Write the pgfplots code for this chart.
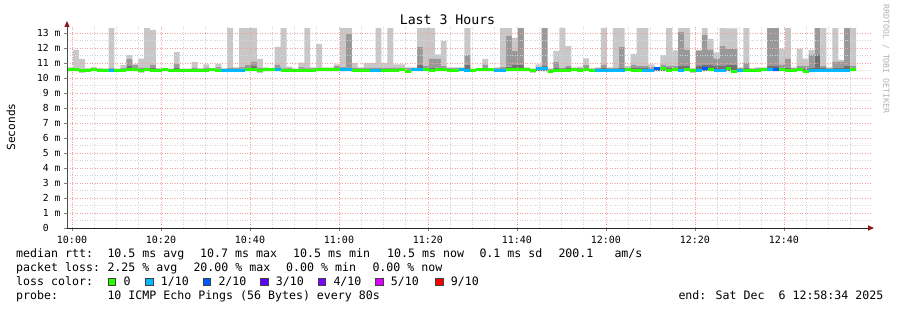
\documentclass[border=0pt]{standalone}
\usepackage{pgfplots}
\pgfplotsset{compat=1.18}
\usepackage{pgfplotstable}
\usepackage{fontspec}
\setmainfont{DejaVu Sans Mono}
\newfontfamily\mono{DejaVu Sans Mono}
\definecolor{lzero}{HTML}{26FF00}
\definecolor{lone}{HTML}{00B8FF}
\definecolor{ltwo}{HTML}{0059FF}
\definecolor{lthree}{HTML}{5E00FF}
\definecolor{lfour}{HTML}{7E00FF}
\definecolor{lfive}{HTML}{DD00FF}
\definecolor{lnine}{HTML}{FF0000}
\definecolor{smlight}{HTML}{C8C8C8}
\definecolor{smmid}{HTML}{999999}
\definecolor{smdark}{HTML}{707070}
\definecolor{arrowred}{HTML}{8B1A1A}
\definecolor{mgrid}{HTML}{F4A0A0}
\definecolor{ngrid}{HTML}{D4D4D4}

\pgfplotstableread{
lo dark mid top med loss
10.45 10.60 10.65 10.70 10.55 0
10.45 10.60 10.65 11.87 10.57 0
10.38 10.55 10.60 11.27 10.48 0
10.45 10.60 10.62 10.65 10.52 0
10.45 10.60 10.65 10.72 10.58 0
10.45 10.58 10.60 10.65 10.52 0
10.45 10.58 10.60 10.62 10.52 0
10.45 10.60 10.65 13.33 10.52 1
10.45 10.58 10.60 10.62 10.52 0
10.45 10.60 10.65 10.87 10.52 0
10.45 10.80 11.27 11.53 10.58 0
10.45 10.65 10.85 10.93 10.58 0
10.38 10.60 10.70 11.29 10.50 0
10.45 10.60 10.70 13.33 10.58 0
10.45 10.65 10.90 13.20 10.52 0
10.45 10.58 10.60 10.65 10.52 0
10.45 10.58 10.60 10.65 10.58 0
10.45 10.58 10.60 10.62 10.52 0
10.45 10.70 10.93 11.73 10.50 0
10.45 10.58 10.60 10.62 10.52 0
10.45 10.58 10.60 10.62 10.52 0
10.45 10.60 10.70 11.07 10.52 0
10.45 10.58 10.60 10.65 10.52 0
10.45 10.60 10.70 10.90 10.52 0
10.45 10.58 10.60 10.65 10.58 0
10.45 10.62 10.75 10.93 10.52 0
10.45 10.58 10.60 10.65 10.50 1
10.45 10.60 10.70 13.33 10.50 1
10.45 10.60 10.65 10.70 10.50 1
10.45 10.62 10.75 13.33 10.50 1
10.45 10.65 10.87 13.33 10.58 0
10.45 10.80 11.10 13.33 10.58 0
10.38 10.60 10.70 11.27 10.48 0
10.45 10.60 10.65 10.70 10.55 0
10.45 10.58 10.60 10.62 10.55 0
10.45 10.70 10.90 12.07 10.58 1
10.45 10.62 10.70 13.33 10.52 0
10.45 10.60 10.65 10.75 10.52 0
10.40 10.58 10.60 10.62 10.48 0
10.45 10.62 10.75 11.02 10.52 0
10.45 10.62 10.70 13.33 10.52 0
10.45 10.60 10.65 10.70 10.52 0
10.45 10.60 10.70 12.27 10.58 0
10.45 10.60 10.65 10.70 10.58 0
10.45 10.60 10.65 10.70 10.58 0
10.45 10.65 10.80 10.90 10.58 0
10.45 10.60 10.75 13.33 10.58 1
10.45 10.70 12.93 13.33 10.58 1
10.40 10.60 10.70 11.00 10.50 0
10.45 10.60 10.65 10.70 10.52 0
10.45 10.60 10.70 11.00 10.52 0
10.45 10.60 10.70 11.00 10.52 1
10.45 10.60 10.70 13.33 10.52 1
10.45 10.60 10.70 11.00 10.52 0
10.45 10.60 10.70 13.33 10.52 0
10.45 10.60 10.70 10.90 10.52 0
10.45 10.60 10.70 10.90 10.55 0
10.35 10.58 10.65 10.70 10.45 0
10.45 10.60 10.65 10.70 10.58 1
10.45 10.90 12.07 13.33 10.58 1
10.45 10.65 10.80 13.33 10.58 0
10.45 10.70 11.30 13.33 10.52 0
10.45 10.70 11.30 11.58 10.58 0
10.45 10.65 10.80 12.47 10.58 0
10.45 10.60 10.65 10.70 10.52 0
10.45 10.60 10.65 10.70 10.52 0
10.45 10.60 10.65 10.70 10.55 1
10.45 10.90 11.55 13.33 10.50 1
10.45 10.58 10.60 10.62 10.52 0
10.45 10.58 10.60 10.62 10.58 0
10.45 10.65 10.90 11.27 10.58 0
10.45 10.58 10.60 10.62 10.58 0
10.45 10.60 10.65 10.70 10.50 1
10.45 10.60 10.75 13.33 10.50 1
10.45 10.75 12.84 13.33 10.58 0
10.45 10.85 11.80 12.67 10.58 0
10.45 10.90 13.33 13.33 10.58 0
10.45 10.60 10.65 10.70 10.58 0
10.38 10.58 10.60 10.62 10.48 0
10.45 10.62 10.75 10.90 10.60 1
10.45 10.80 13.33 13.33 10.60 1
10.35 10.58 10.60 10.62 10.45 0
10.45 10.70 11.07 11.80 10.52 0
10.45 10.60 10.70 13.33 10.52 0
10.45 10.65 10.80 12.13 10.52 0
10.45 10.60 10.65 10.70 10.58 0
10.45 10.60 10.65 10.75 10.52 0
10.45 10.65 10.85 11.30 10.58 0
10.45 10.58 10.60 10.65 10.52 0
10.45 10.60 10.65 10.70 10.52 1
10.45 10.65 10.90 13.33 10.52 1
10.45 10.60 10.65 10.70 10.52 1
10.45 10.60 10.70 13.33 10.52 1
10.45 10.70 12.07 13.33 10.52 1
10.45 10.62 10.70 10.80 10.58 0
10.45 10.65 10.90 11.60 10.52 0
10.45 10.65 10.80 13.33 10.52 0
10.45 10.65 10.80 13.33 10.52 1
10.45 10.62 10.75 10.90 10.52 1
10.45 10.60 10.62 10.65 10.60 2
10.45 10.70 10.90 11.53 10.65 0
10.45 10.65 10.80 13.33 10.52 0
10.45 10.65 10.80 11.84 10.58 0
10.45 10.80 13.07 13.33 10.52 1
10.45 10.80 11.90 13.33 10.58 0
10.38 10.60 10.62 10.65 10.48 0
10.45 10.80 11.84 11.84 10.52 1
10.45 10.90 12.87 13.33 10.60 2
10.45 10.85 11.90 12.60 10.58 0
10.45 10.80 11.30 11.70 10.52 1
10.45 10.80 12.13 13.33 10.52 1
10.45 10.85 11.96 13.30 10.65 0
10.35 10.90 11.96 13.30 10.45 0
10.45 10.60 10.65 10.70 10.52 1
10.45 10.65 11.00 13.33 10.52 0
10.40 10.55 10.60 10.65 10.48 0
10.40 10.60 10.65 10.70 10.48 0
10.45 10.60 10.65 10.70 10.58 0
10.45 10.80 13.33 13.33 10.58 1
10.45 10.80 13.33 13.33 10.58 2
10.45 10.70 10.90 11.96 10.58 0
10.45 10.70 11.30 13.33 10.52 0
10.45 10.60 10.65 10.70 10.52 0
10.45 10.65 10.80 11.96 10.58 0
10.35 10.60 10.80 11.29 10.45 0
10.45 10.70 11.58 11.87 10.52 1
10.45 11.53 13.33 13.33 10.52 1
10.45 10.65 10.80 13.33 10.52 1
10.45 10.60 10.65 10.70 10.52 1
10.45 10.65 11.10 13.33 10.52 1
10.45 10.65 11.10 11.20 10.52 1
10.45 10.80 13.33 13.33 10.52 1
10.45 10.65 10.80 13.33 10.58 0
10.45 10.65 10.80 13.33 10.58 0
}\smoke

\begin{document}
\begin{tikzpicture}
\fill[white] (0pt,0pt) rectangle (897pt,310pt);
\useasboundingbox (0pt,0pt) rectangle (897pt,310pt);
\begin{axis}[
  at={(67pt,82pt)}, anchor=south west,
  scale only axis, width=802.7pt, height=201.75pt,
  xmin=0, xmax=135.3, ymin=0, ymax=13.45,
  axis x line*=bottom, axis y line*=left,
  axis line style={draw=none},
  axis on top,
  xtick={0.843,15.843,30.843,45.843,60.843,75.843,90.843,105.843,120.843},
  xticklabels={10:00,10:20,10:40,11:00,11:20,11:40,12:00,12:20,12:40},
  minor xtick={4.593,8.343,12.093,19.593,23.343,27.093,34.593,38.343,42.093,49.593,53.343,57.093,64.593,68.343,72.093,79.593,83.343,87.093,94.593,98.343,102.093,109.593,113.343,117.093,124.593,128.343,132.093},
  ytick={0,1,2,3,4,5,6,7,8,9,10,11,12,13},
  yticklabels={{0\rule{11.7pt}{0pt}},1 m,2 m,3 m,4 m,5 m,6 m,7 m,8 m,9 m,10 m,11 m,12 m,13 m},
  minor ytick={0.5,1.5,2.5,3.5,4.5,5.5,6.5,7.5,8.5,9.5,10.5,11.5,12.5},
  grid=both,
  every major grid/.style={color=mgrid, line width=0.5pt, dash pattern=on 1pt off 1.5pt},
  every minor grid/.style={color=ngrid, line width=0.5pt, dash pattern=on 1pt off 1.5pt},
  tick align=outside, major tick length=3pt, minor tick length=0pt,
  major tick style={line width=0.6pt},
  xticklabel style={font=\mono\fontsize{10}{12}\selectfont, yshift=-2pt},
  yticklabel style={font=\mono\fontsize{9.7}{11}\selectfont},
]
\addplot[stack plots=y, const plot, draw=none] table[x expr=\coordindex, y=lo] \smoke;
\addplot[stack plots=y, const plot, draw=none, fill=smdark] table[x expr=\coordindex, y expr=\thisrow{dark}-\thisrow{lo}] \smoke \closedcycle;
\addplot[stack plots=y, const plot, draw=none, fill=smmid] table[x expr=\coordindex, y expr=\thisrow{mid}-\thisrow{dark}] \smoke \closedcycle;
\addplot[stack plots=y, const plot, draw=none, fill=smlight] table[x expr=\coordindex, y expr=\thisrow{top}-\thisrow{mid}] \smoke \closedcycle;
\addplot[scatter, only marks, scatter src=explicit symbolic, mark size=2.97pt,
  scatter/classes={0={mark=-,draw=lzero,line width=3pt},1={mark=-,draw=lone,line width=3pt},2={mark=-,draw=ltwo,line width=3pt}}]
  table[x expr=\coordindex+0.5, y=med, meta=loss, skip coords between index={133}{134}] \smoke;
\end{axis}
\draw[black!85, line width=0.8pt] (67pt,82pt) -- (869pt,82pt);
\fill[arrowred] (868pt,79.3pt) -- (874pt,82pt) -- (868pt,84.7pt) -- cycle;
\draw[black!70, line width=0.8pt] (67pt,82pt) -- (67pt,284pt);
\fill[arrowred] (64.3pt,283pt) -- (67pt,289pt) -- (69.7pt,283pt) -- cycle;
% title, labels
\node[font=\mono\fontsize{13.2}{15}\selectfont] at (447.5pt,290pt) {Last 3 Hours};
\node[font=\mono\fontsize{11.2}{13}\selectfont, rotate=90] at (11pt,183pt) {Seconds};
\node[font=\mono\fontsize{8.2}{10}\selectfont, rotate=-90, text=black!30] at (886pt,251pt) {RRDTOOL / TOBI OETIKER};
% legend
\begin{scope}[every node/.style={anchor=base west, inner sep=0pt, font=\mono\fontsize{11.6}{14}\selectfont}]
\node at (16pt,52.5pt) {median rtt:};
\node at (107.3pt,52.5pt) {10.5 ms avg};
\node at (200pt,52.5pt) {10.7 ms max};
\node at (293pt,52.5pt) {10.5 ms min};
\node at (387pt,52.5pt) {10.5 ms now};
\node at (479.3pt,52.5pt) {0.1 ms sd};
\node at (558.3pt,52.5pt) {200.1};
\node at (614.3pt,52.5pt) {am/s};
\node at (16pt,38.5pt) {packet loss:};
\node at (107.3pt,38.5pt) {2.25 \% avg};
\node at (193.3pt,38.5pt) {20.00 \% max};
\node at (286pt,38.5pt) {0.00 \% min};
\node at (372.3pt,38.5pt) {0.00 \% now};
\node at (16pt,24.5pt) {loss color:};
\node at (123.3pt,24.5pt) {0};
\node at (160.7pt,24.5pt) {1/10};
\node at (218.3pt,24.5pt) {2/10};
\node at (275.7pt,24.5pt) {3/10};
\node at (333.3pt,24.5pt) {4/10};
\node at (390.7pt,24.5pt) {5/10};
\node at (450.7pt,24.5pt) {9/10};
\node at (16pt,10.5pt) {probe:};
\node at (107.3pt,10.5pt) {10 ICMP Echo Pings (56 Bytes) every 80s};
\node at (678.3pt,10.5pt) {end: Sat Dec\ \ 6 12:58:34 2025};
\end{scope}
\foreach \xx/\cc in {108.3/lzero,145.7/lone,203.3/ltwo,260.7/lthree,318.3/lfour,375.7/lfive,435.7/lnine}{
  \filldraw[fill=\cc, draw=black!75, line width=0.6pt] (\xx pt,24.3pt) rectangle ++(7.3pt,7.3pt);
}
\end{tikzpicture}
\end{document}
